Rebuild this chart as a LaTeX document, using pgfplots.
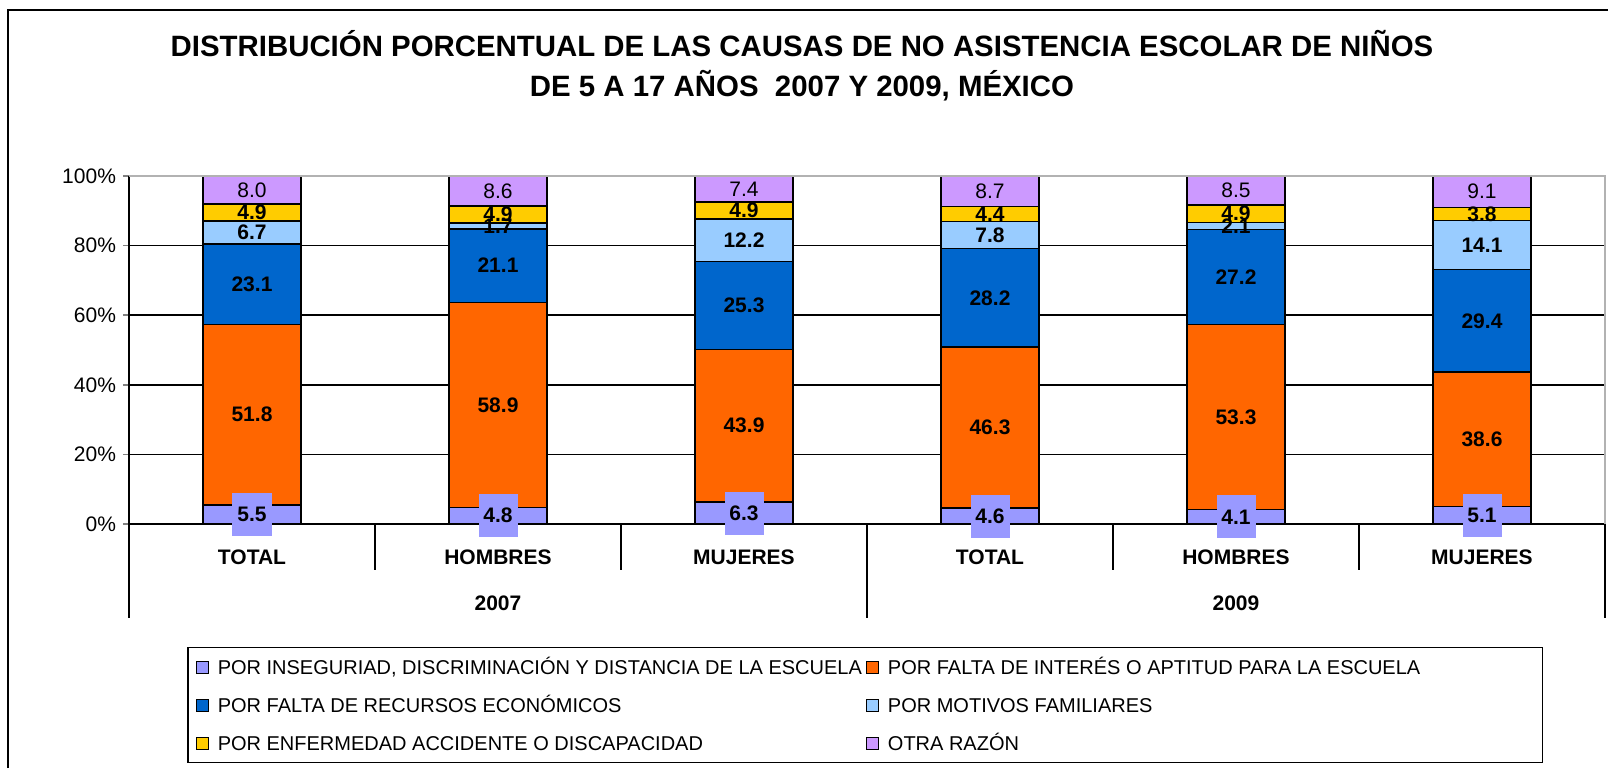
\documentclass[border=0pt]{standalone}
\usepackage{pgfplots}
\pgfplotsset{compat=1.18}
\usepackage{fontspec}
\setmainfont{Liberation Sans}
\definecolor{cInseg}{HTML}{9999FF}
\definecolor{cInteres}{HTML}{FF6600}
\definecolor{cRecursos}{HTML}{0066CC}
\definecolor{cFamilia}{HTML}{99CCFF}
\definecolor{cEnferm}{HTML}{FFCC00}
\definecolor{cOtra}{HTML}{CC99FF}

\begin{document}
\begin{tikzpicture}
  \useasboundingbox (0,0) rectangle (804pt,384pt);
  % marco del area del grafico
  \draw[line width=1pt] (4pt,0) -- (4pt,379pt) -- (804pt,379pt);
  \node[font=\fontsize{14.7}{16}\selectfont\bfseries] at (401pt,362pt)
    {DISTRIBUCIÓN PORCENTUAL DE LAS CAUSAS DE NO ASISTENCIA ESCOLAR DE NIÑOS};
  \node[font=\fontsize{14.7}{16}\selectfont\bfseries] at (401pt,341pt)
    {DE 5 A 17 AÑOS\ \ 2007 Y 2009, MÉXICO};

  \begin{axis}[
    at={(64.5pt,122pt)}, anchor=south west,
    scale only axis, width=738pt, height=174pt,
    ybar stacked, bar width=49pt,
    xmin=-0.5, xmax=5.5, ymin=0, ymax=100,
    clip=false,
    /pgf/number format/assume math mode=true,
    font=\fontsize{10.5}{12}\selectfont,
    xtick={0,...,5},
    xticklabels={TOTAL,HOMBRES,MUJERES,TOTAL,HOMBRES,MUJERES},
    xticklabel style={font=\fontsize{10.5}{12}\selectfont\bfseries, anchor=base, yshift=-17.25pt},
    major x tick style={draw=none},
    ytick={0,20,...,100},
    yticklabel={\pgfmathprintnumber{\tick}\%},
    axis x line*=bottom, axis y line*=left,
    axis line style={line width=0.75pt},
    tick align=outside, major tick length=3pt,
    major y tick style={line width=0.75pt},
    ymajorgrids, grid style={black, line width=0.75pt},
    every axis plot/.append style={draw=black, line width=0.75pt},
    nodes near coords={\pgfmathprintnumber[fixed,fixed zerofill,precision=1]{\rawy}},
    visualization depends on={rawy \as \rawy},
    every node near coord/.append style={anchor=center,
      font=\fontsize{10.5}{12}\selectfont\bfseries, text=black},
    legend columns=2,
    legend cell align=left,
    legend image code/.code={\draw[#1, line width=0.5pt] (0pt,-3pt) rectangle (6pt,3pt);},
    legend style={at={(0.0393,-0.3534)}, anchor=north west, draw=black, line width=0.75pt,
      inner xsep=4pt, inner ysep=4pt, row sep=7.5pt,
      font=\fontsize{10}{12}\selectfont,
      nodes={text height=7.5pt, text depth=0pt, line width=0pt},
      /tikz/every odd column/.append style={column sep=2.5pt}},
  ]
    \draw[gray!60, line width=0.75pt] (rel axis cs:0,1) -- (rel axis cs:1,1) -- (rel axis cs:1,0);
    \pgfplotsinvokeforeach{0.5,1.5,3.5,4.5}{
      \draw[line width=0.75pt] (axis cs:#1,0) -- ([yshift=-23pt]axis cs:#1,0);
    }
    \pgfplotsinvokeforeach{-0.5,2.5,5.5}{
      \draw[line width=0.75pt] (axis cs:#1,0) -- ([yshift=-47pt]axis cs:#1,0);
    }
    \node[anchor=base, font=\fontsize{10.5}{12}\selectfont\bfseries] at ([yshift=-43.25pt]axis cs:1,0) {2007};
    \node[anchor=base, font=\fontsize{10.5}{12}\selectfont\bfseries] at ([yshift=-43.25pt]axis cs:4,0) {2009};

    \addplot[fill=cInseg, every node near coord/.append style={fill=cInseg, inner sep=0pt,
      minimum width=19.5pt, minimum height=21.5pt}]
      coordinates {(0,5.5) (1,4.8) (2,6.3) (3,4.6) (4,4.1) (5,5.1)};
    \addplot[fill=cInteres]
      coordinates {(0,51.8) (1,58.9) (2,43.9) (3,46.3) (4,53.3) (5,38.6)};
    \addplot[fill=cRecursos]
      coordinates {(0,23.1) (1,21.1) (2,25.3) (3,28.2) (4,27.2) (5,29.4)};
    \addplot[fill=cFamilia]
      coordinates {(0,6.7) (1,1.7) (2,12.2) (3,7.8) (4,2.1) (5,14.1)};
    \addplot[fill=cEnferm]
      coordinates {(0,4.9) (1,4.9) (2,4.9) (3,4.4) (4,4.9) (5,3.8)};
    \addplot[fill=cOtra, every node near coord/.append style={font=\fontsize{10.5}{12}\selectfont}]
      coordinates {(0,8.0) (1,8.6) (2,7.4) (3,8.7) (4,8.5) (5,9.1)};

    \legend{POR INSEGURIAD{,} DISCRIMINACIÓN Y DISTANCIA DE LA ESCUELA,
      POR FALTA DE INTERÉS O APTITUD PARA LA ESCUELA\rule{55pt}{0pt},
      POR FALTA DE RECURSOS ECONÓMICOS,
      POR MOTIVOS FAMILIARES,
      POR ENFERMEDAD ACCIDENTE O DISCAPACIDAD,
      OTRA RAZÓN}
  \end{axis}
\end{tikzpicture}
\end{document}
